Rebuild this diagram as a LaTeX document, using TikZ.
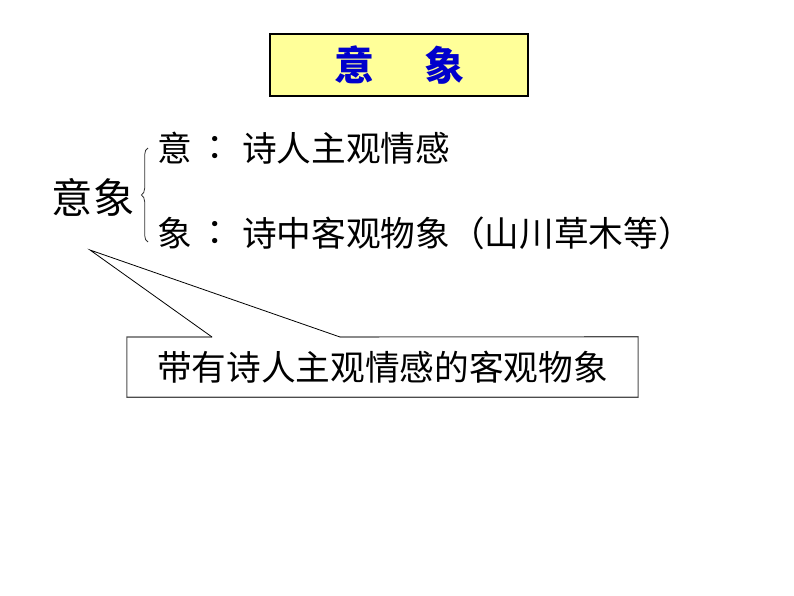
\documentclass[tikz,border=0pt]{standalone}
\usepackage{fontspec}
\setmainfont{Noto Sans CJK SC}
\usetikzlibrary{decorations.pathreplacing}
\definecolor{titleyellow}{RGB}{255,255,153}
\definecolor{titleblue}{RGB}{0,0,204}
\tikzset{
  titlebox/.style={draw=black,line width=1.6pt,fill=titleyellow,minimum width=193pt,minimum height=47pt,inner sep=0pt},
  bigtext/.style={font=\fontsize{31pt}{31pt}\selectfont,inner sep=0pt},
  linetext/.style={font=\fontsize{26pt}{26pt}\selectfont,inner sep=0pt},
  notebox/.style={minimum width=383pt,minimum height=45pt,inner sep=0pt}
}
\begin{document}
\begin{tikzpicture}[x=0.75pt,y=-0.75pt]
      \useasboundingbox (0,0) rectangle (794,596);
      \node[titlebox] (title) at (399,65) {\textcolor{titleblue}{\fontsize{30pt}{30pt}\selectfont\bfseries 意\hspace{1.25em}象}};
      \node[bigtext] (word) at (93,197) {意象};
      \draw[gray!40!black,line width=0.6pt,decorate,decoration={brace,amplitude=5pt}] (148,242) -- (148,148);
      \node[linetext,anchor=west] (yi) at (157,148) {意};
      \node[linetext] (yicolon) at (224,148) {：};
      \node[linetext,anchor=west] (yitext) at (242,148) {诗人主观情感};
      \node[linetext,anchor=west] (xiang) at (157,233) {象};
      \node[linetext] (xiangcolon) at (224,233) {：};
      \node[linetext,anchor=west] (xiangtext) at (242,233) {诗中客观物象（山川草木等）};
      % callout
      \node[notebox,linetext] (note) at (382.5,367) {带有诗人主观情感的客观物象};
      \coordinate (tip) at (90,250);
      \coordinate (baseleft) at (212,337);
      \coordinate (baseright) at (340,337);
      \draw[gray!60!black,line width=0.8pt] (baseleft) -| (note.south west) -| (note.north east) -- (baseright);
      \draw[black,line width=0.6pt] (baseleft) -- (tip) -- (baseright);
     \end{tikzpicture}
\end{document}
